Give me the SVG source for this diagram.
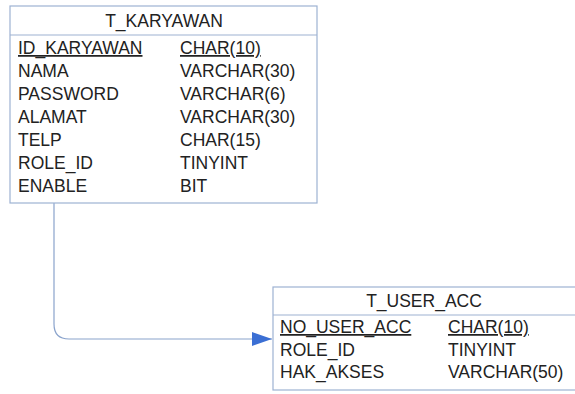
<svg xmlns="http://www.w3.org/2000/svg" width="575" height="394" viewBox="0 0 575 394">
<style>
.box{fill:#ffffff;stroke:#9db2d2;stroke-width:1.2}
.sep{stroke:#9db2d2;stroke-width:1.2}
text{font-family:"Liberation Sans",Arial,sans-serif;font-size:17.5px;fill:#222}
.hd{text-anchor:middle}
.pk{text-decoration:underline}
.conn{fill:none;stroke:#8aa3cc;stroke-width:1.2}
</style>
<defs>
<marker id="arr" markerWidth="20" markerHeight="14" refX="20" refY="7" orient="auto" markerUnits="userSpaceOnUse">
<path d="M0,0 L20,7 L0,14 Z" fill="#3b6fd4"/>
</marker>
</defs>
<rect width="575" height="394" fill="#fff"/>
<g id="connectors">
<path class="conn" d="M54,203 V324 Q54,339 69,339 H272" marker-end="url(#arr)"/>
</g>
<g id="t_karyawan">
<rect class="box" x="10" y="6" width="307" height="197"/>
<line class="sep" x1="10" y1="35" x2="317" y2="35"/>
<text class="hd" x="164" y="27">T_KARYAWAN</text>
<text class="pk" x="18" y="54">ID_KARYAWAN</text><text class="pk" x="180" y="54">CHAR(10)</text>
<text x="18" y="77">NAMA</text><text x="180" y="77">VARCHAR(30)</text>
<text x="18" y="100">PASSWORD</text><text x="180" y="100">VARCHAR(6)</text>
<text x="18" y="123">ALAMAT</text><text x="180" y="123">VARCHAR(30)</text>
<text x="18" y="146">TELP</text><text x="180" y="146">CHAR(15)</text>
<text x="18" y="169">ROLE_ID</text><text x="180" y="169">TINYINT</text>
<text x="18" y="192">ENABLE</text><text x="180" y="192">BIT</text>
</g>
<g id="t_user_acc">
<rect class="box" x="273" y="287" width="310" height="103"/>
<line class="sep" x1="273" y1="315" x2="583" y2="315"/>
<text class="hd" x="424" y="307">T_USER_ACC</text>
<text class="pk" x="280" y="333">NO_USER_ACC</text><text class="pk" x="448" y="333">CHAR(10)</text>
<text x="280" y="355.5">ROLE_ID</text><text x="448" y="355.5">TINYINT</text>
<text x="280" y="378">HAK_AKSES</text><text x="448" y="378">VARCHAR(50)</text>
</g>
</svg>
